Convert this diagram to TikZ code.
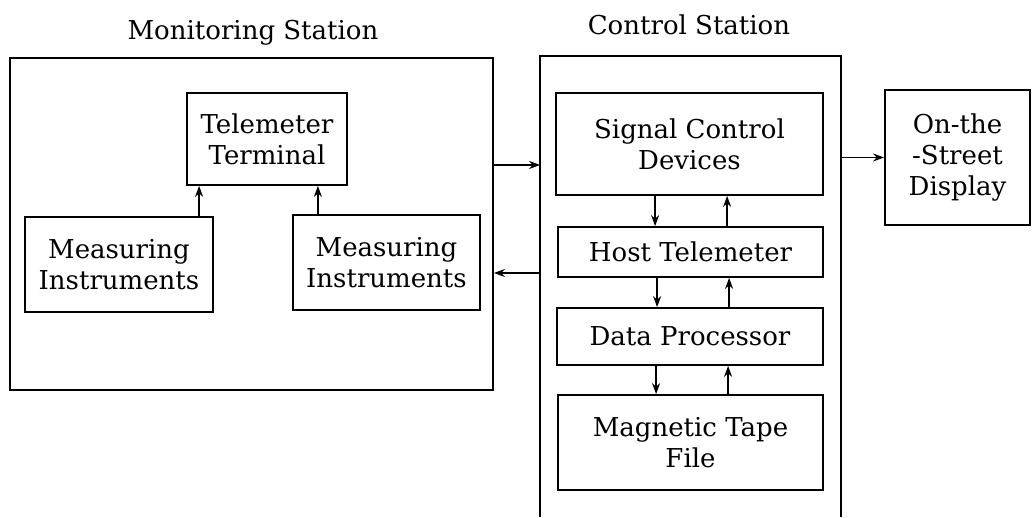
\documentclass[tikz,border=0pt]{standalone}
\usepackage{fontspec}
\setmainfont{DejaVu Serif}
\usepackage{tikz}
\usetikzlibrary{arrows.meta,positioning}

\begin{document}
\begin{tikzpicture}[x=0.5pt, y=-0.5pt,
		block/.style={draw, line width=0.9pt, align=center, inner sep=0pt},
		frame/.style={line width=0.9pt, inner sep=0pt},
		title/.style={anchor=base, inner sep=0pt},
		arr/.style={line width=0.8pt, -{Stealth[length=5.5pt,width=4pt]}},
		every node/.style={font=\fontsize{13}{15.5}\selectfont}]
			\useasboundingbox[fill=white] (0,0) rectangle (1035,518);
			\node[block, minimum width=241.5pt, minimum height=166pt] (mon) at (251.5,224) {};
			\node[frame, minimum width=149.5pt, minimum height=229.5pt] (ctl) at (690.5,286.5) {};
			\draw[line width=0.9pt] (ctl.south west) |- (ctl.north east) -- (ctl.south east);
			\node[title] (montitle) at (253,40) {Monitoring Station};
			\node[title] (ctltitle) at (689,35) {Control Station};
			\node[block, minimum width=80pt, minimum height=46pt] (term) at (267,139) {Telemeter\\Terminal};
			\node[block, minimum width=94pt, minimum height=47.5pt] (meas1) at (119,264.5) {Measuring\\Instruments};
			\node[block, minimum width=93.5pt, minimum height=47.5pt] (meas2) at (386.5,262.5) {Measuring\\Instruments};
			\node[block, minimum width=133.5pt, minimum height=51pt] (sig) at (689.5,144) {Signal Control\\Devices};
			\node[block, minimum width=132.5pt, minimum height=25pt] (host) at (690.5,252) {Host Telemeter};
			\node[block, minimum width=133pt, minimum height=28.5pt] (data) at (690,336.5) {Data Processor};
			\node[block, minimum width=132.5pt, minimum height=47.5pt] (tape) at (690.5,442.5) {Magnetic Tape\\File};
			\node[block, minimum width=72.5pt, minimum height=67.5pt] (disp) at (957.5,157.5) {On-the\\-Street\\Display};
			\draw[arr] ([xshift=6.5pt]term.south west |- meas1.north) -- ([xshift=6.5pt]term.south west);
			\draw[arr] ([xshift=-15pt]term.south east |- meas2.north) -- ([xshift=-15pt]term.south east);
			\foreach \a/\b in {sig/host, host/data, data/tape} {
				\draw[arr] ([xshift=50pt]\a.south west) -- ([xshift=50pt]\a.south west |- \b.north);
				\draw[arr] ([xshift=86pt]\a.south west |- \b.north) -- ([xshift=86pt]\a.south west);
			}
			\draw[arr] ([yshift=29.5pt]mon.east) -- ([yshift=29.5pt]mon.east -| ctl.west);
			\draw[arr] ([yshift=-24.5pt]mon.east -| ctl.west) -- ([yshift=-24.5pt]mon.east);
			\draw[arr] (ctl.east |- disp.west) -- (disp.west);
		\end{tikzpicture}
\end{document}
